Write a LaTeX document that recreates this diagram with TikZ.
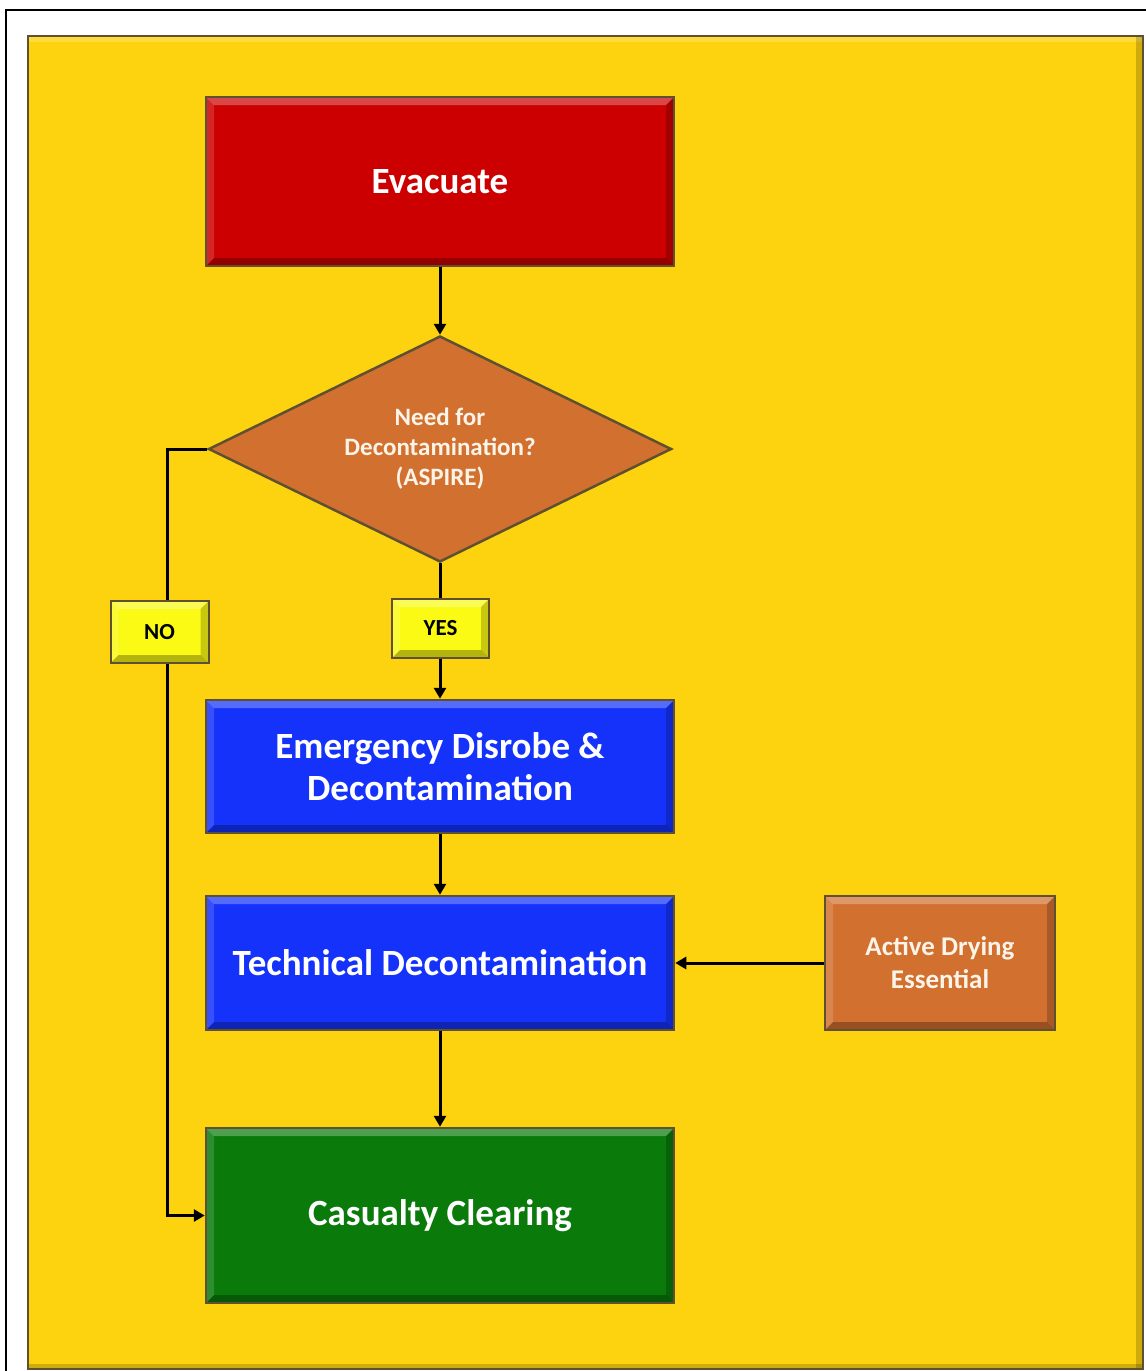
\documentclass[tikz,border=0pt]{standalone}
\usepackage{fontspec}
\setmainfont{Carlito}
\usetikzlibrary{shapes.geometric,arrows.meta,calc}

\definecolor{bgyellow}{RGB}{253,210,14}
\definecolor{edgec}{RGB}{95,80,50}
\definecolor{redbox}{RGB}{204,0,0}
\definecolor{bluebox}{RGB}{20,50,250}
\definecolor{greenbox}{RGB}{10,122,10}
\definecolor{orangebox}{RGB}{210,112,48}
\definecolor{labelyellow}{RGB}{250,250,20}
\definecolor{creamtext}{RGB}{252,244,232}

\newlength{\bvw}
\setlength{\bvw}{8pt}

\tikzset{
  x=1pt, y=-1pt,
  bevel/.style={path picture={
    \fill[white,opacity=.28] (path picture bounding box.north west) -- (path picture bounding box.north east)
      -- ([shift={(-\bvw,-\bvw)}]path picture bounding box.north east) -- ([shift={(\bvw,-\bvw)}]path picture bounding box.north west) -- cycle;
    \fill[white,opacity=.15] (path picture bounding box.north west) -- ([shift={(\bvw,-\bvw)}]path picture bounding box.north west)
      -- ([shift={(\bvw,\bvw)}]path picture bounding box.south west) -- (path picture bounding box.south west) -- cycle;
    \fill[black,opacity=.28] (path picture bounding box.south west) -- (path picture bounding box.south east)
      -- ([shift={(-\bvw,\bvw)}]path picture bounding box.south east) -- ([shift={(\bvw,\bvw)}]path picture bounding box.south west) -- cycle;
    \fill[black,opacity=.2] (path picture bounding box.north east) -- ([shift={(-\bvw,-\bvw)}]path picture bounding box.north east)
      -- ([shift={(-\bvw,\bvw)}]path picture bounding box.south east) -- (path picture bounding box.south east) -- cycle;
  }},
  bigbox/.style={rectangle, draw=edgec, line width=2.5pt, bevel, minimum width=468pt, text=white,
    align=center, font=\fontsize{37}{42}\selectfont\bfseries},
  smallbox/.style={rectangle, draw=edgec, line width=2.5pt, bevel, text=creamtext,
    align=center, font=\fontsize{27}{33}\selectfont\bfseries},
  tagbox/.style={rectangle, draw=edgec, line width=2pt, fill=labelyellow, bevel, text=black,
    inner sep=0pt, font=\fontsize{23}{26}\selectfont\bfseries},
  conn/.style={line width=3pt, black},
  arr/.style={conn, -{Triangle[length=11pt,width=12pt]}},
}

\begin{document}
\begin{tikzpicture}
\useasboundingbox[fill=white] (0,0) rectangle (1146,1371);
\draw[line width=2.5pt, black] (6,1371) -- (6,10) -- (1146,10);

\node[rectangle, draw=edgec, line width=2pt, fill=bgyellow, minimum width=1115pt, minimum height=1333pt,
  inner sep=0pt, path picture={
    \fill[white,opacity=.2] (path picture bounding box.north west) rectangle ([yshift=-6pt]path picture bounding box.north east);
    \fill[black,opacity=.18] ([xshift=-7pt]path picture bounding box.north east) rectangle (path picture bounding box.south east);
    \fill[black,opacity=.18] (path picture bounding box.south west) rectangle ([yshift=5pt]path picture bounding box.south east);
  }] (panel) at (585.5,702.5) {};

\node[bigbox, fill=redbox, minimum height=169pt] (evac) at (440,181.5) {Evacuate};

\node[diamond, draw=edgec, line width=2.5pt, fill=orangebox, text=creamtext, aspect=2, inner sep=0pt,
  minimum width=463pt, minimum height=226pt, align=center,
  font=\fontsize{25}{30}\selectfont\bfseries] (dec) at (440,449) {Need for\\Decontamination?\\(ASPIRE)};

\node[bigbox, fill=bluebox, minimum height=133pt] (emerg) at (440,766.5) {Emergency Disrobe \&\\Decontamination};
\node[bigbox, fill=bluebox, minimum height=134pt] (tech) at (440,963) {Technical Decontamination};
\node[bigbox, fill=greenbox, minimum height=175pt] (cas) at (440,1215.5) {Casualty Clearing};
\node[smallbox, fill=orangebox, minimum width=230pt, minimum height=134pt] (act) at (940,963) {Active Drying\\Essential};

\draw[arr] (evac.south) -- (dec.north);
\draw[arr] (dec.south) -- (emerg.north);
\draw[arr] (emerg.south) -- (tech.north);
\draw[arr] (tech.south) -- (cas.north);
\draw[arr] (act.west) -- (tech.east);
\draw[arr] (dec.west) -- ++(-40,0) |- (cas.west);

\node[tagbox, minimum width=98pt, minimum height=62pt] (no) at (159.5,632) {NO};
\node[tagbox, minimum width=97pt, minimum height=59pt] (yes) at (440.5,628.5) {YES};
\end{tikzpicture}
\end{document}
